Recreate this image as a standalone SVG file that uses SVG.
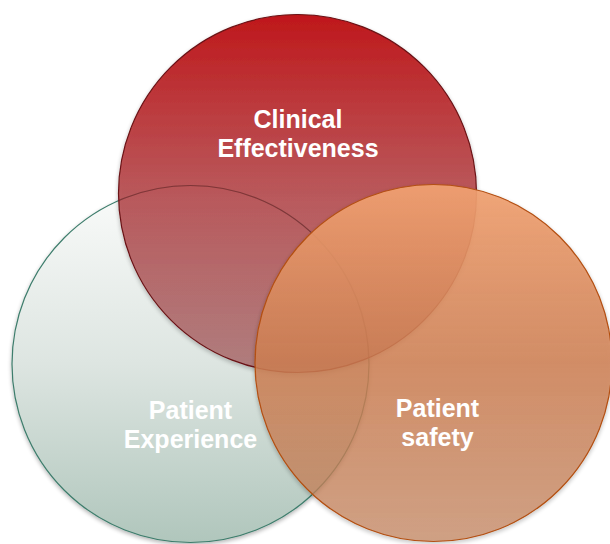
<svg xmlns="http://www.w3.org/2000/svg" width="610" height="544" viewBox="0 0 610 544">
  <defs>
    <linearGradient id="gradRed" x1="0" y1="0" x2="0" y2="1">
      <stop offset="0" stop-color="#bf171a" stop-opacity="1"/>
      <stop offset="0.5" stop-color="#b64c4f" stop-opacity="0.9"/>
      <stop offset="1" stop-color="#a86466" stop-opacity="0.72"/>
    </linearGradient>
    <linearGradient id="gradGreen" x1="0" y1="0" x2="0" y2="1">
      <stop offset="0" stop-color="#fafbfa"/>
      <stop offset="0.5" stop-color="#dde5e1"/>
      <stop offset="1" stop-color="#b0c6bc"/>
    </linearGradient>
    <linearGradient id="gradOrange" x1="0" y1="0" x2="0" y2="1">
      <stop offset="0" stop-color="#f2a272" stop-opacity="0.93"/>
      <stop offset="0.5" stop-color="#cf7f52" stop-opacity="0.83"/>
      <stop offset="1" stop-color="#c6855e" stop-opacity="0.68"/>
    </linearGradient>
    <clipPath id="insideRed">
      <circle cx="297.5" cy="193.5" r="179"/>
    </clipPath>
    <filter id="shadow" x="-10%" y="-10%" width="120%" height="125%">
      <feGaussianBlur in="SourceAlpha" stdDeviation="2"/>
      <feOffset dx="0" dy="2" result="blur"/>
      <feComponentTransfer><feFuncA type="linear" slope="0.3"/></feComponentTransfer>
      <feMerge><feMergeNode/><feMergeNode in="SourceGraphic"/></feMerge>
    </filter>
  </defs>
  <style>
    .label { font-family: "Liberation Sans", Arial, sans-serif; font-weight: bold; font-size: 25px; fill: #ffffff; text-anchor: middle; }
    .ring { stroke-width: 1.2; }
  </style>

  <rect width="610" height="544" fill="#ffffff"/>

  <!-- Patient Experience (bottom left) -->
  <g id="patient-experience">
    <circle class="ring" cx="190.5" cy="364" r="178.5" fill="url(#gradGreen)" stroke="#3e7d6c" filter="url(#shadow)"/>
    <text class="label" x="190.5" y="419">Patient</text>
    <text class="label" x="190.5" y="448">Experience</text>
  </g>

  <!-- Clinical Effectiveness (top) -->
  <g id="clinical-effectiveness">
    <circle class="ring" cx="297.5" cy="193.5" r="179" fill="url(#gradRed)" stroke="#6a1214" filter="url(#shadow)"/>
    <!-- outline of the lower-left ring seen through the red fill -->
    <circle cx="190.5" cy="364" r="178.5" fill="none" stroke="#5a2224" stroke-opacity="0.55" stroke-width="1.2" clip-path="url(#insideRed)"/>
    <text class="label" x="298" y="128">Clinical</text>
    <text class="label" x="298" y="157">Effectiveness</text>
  </g>

  <!-- Patient safety (bottom right) -->
  <g id="patient-safety">
    <circle class="ring" cx="433.5" cy="363" r="178.5" fill="url(#gradOrange)" stroke="#b34f12" filter="url(#shadow)"/>
    <text class="label" x="437.5" y="417">Patient</text>
    <text class="label" x="437.5" y="446">safety</text>
  </g>
</svg>
